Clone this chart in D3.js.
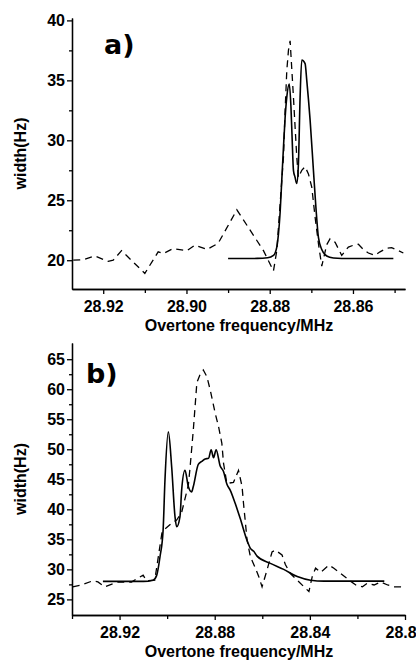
<!DOCTYPE html>
<html lang="en">
<head>
    <meta charset="UTF-8">
    <title>Overtone widths</title>
    <script src="https://d3js.org/d3.v7.min.js"></script>
    <style>
        body { margin: 0; background: #fff; }
        text { font-family: 'Liberation Sans', Arial, sans-serif; font-weight: bold; fill: #000; }
    </style>
</head>
<body>
    <svg id="chart" width="416" height="662"></svg>

    <script>
        // Panel a) - measured (dashed) and fitted (solid) widths
        const aExpFreq  = [28.9272, 28.9248, 28.9220, 28.9188, 28.9176, 28.9156, 28.9100, 28.9068, 28.9056, 28.9032,
                           28.8999, 28.8980, 28.8951, 28.8924, 28.8879, 28.8815, 28.8791, 28.8783, 28.8775, 28.8767,
                           28.8763, 28.8759, 28.8755, 28.8751, 28.8743, 28.8735, 28.8731, 28.8723, 28.8715, 28.8707,
                           28.8699, 28.8691, 28.8683, 28.8675, 28.8663, 28.8655, 28.8643, 28.8627, 28.8611, 28.8599,
                           28.8587, 28.8575, 28.8563, 28.8547, 28.8535, 28.8519, 28.8507, 28.8491, 28.8479];
        const aExpWidth = [20.0, 20.05, 20.35, 19.9, 20.0, 20.8, 18.9, 20.7, 20.55, 20.97,
                           20.8, 21.25, 20.9, 21.4, 24.2, 20.8, 19.1, 20.8, 24.7, 28.6,
                           32.5, 35.8, 37.5, 38.3, 33.6, 28.6, 26.9, 27.5, 27.8, 27.2,
                           26.1, 23.6, 21.4, 19.5, 21.3, 21.8, 21.5, 20.4, 21.1, 21.25,
                           21.33, 20.9, 20.6, 20.4, 20.7, 21.0, 21.05, 20.8, 20.6];
        const aFitFreq  = [28.8900, 28.8830, 28.8805, 28.8791, 28.8783, 28.8779, 28.8775, 28.8771, 28.8767, 28.8763,
                           28.8759, 28.8753, 28.8749, 28.8746, 28.8743, 28.8739, 28.8735, 28.8731, 28.8727, 28.8723,
                           28.8715, 28.8711, 28.8703, 28.8695, 28.8689, 28.8683, 28.8675, 28.8663, 28.8647, 28.8627,
                           28.8503];
        const aFitWidth = [20.14, 20.15, 20.2, 20.4, 21.1, 22.2, 24.0, 26.7, 29.4, 31.9,
                           33.6, 34.7, 32.8, 30.0, 27.5, 26.9, 26.4, 28.1, 33.6, 36.7,
                           36.4, 35.0, 31.7, 27.5, 24.4, 21.9, 20.9, 20.35, 20.18, 20.14,
                           20.14];

        // Panel b)
        const bExpFreq  = [28.9397, 28.9361, 28.9312, 28.9291, 28.9263, 28.9207, 28.9150, 28.9101, 28.9087, 28.9052,
                           28.9021, 28.8981, 28.8960, 28.8939, 28.8911, 28.8904, 28.8890, 28.8875, 28.8862, 28.8848,
                           28.8833, 28.8819, 28.8798, 28.8784, 28.8770, 28.8763, 28.8749, 28.8721, 28.8700, 28.8685,
                           28.8679, 28.8672, 28.8664, 28.8650, 28.8629, 28.8615, 28.8601, 28.8580, 28.8559, 28.8545,
                           28.8517, 28.8503, 28.8482, 28.8453, 28.8425, 28.8404, 28.8390, 28.8376, 28.8355, 28.8320,
                           28.8299, 28.8270, 28.8235, 28.8207, 28.8179, 28.8158, 28.8130, 28.8101, 28.8073, 28.8045,
                           28.8003];
        const bExpWidth = [27.1, 27.4, 28.1, 27.9, 27.1, 27.9, 27.9, 29.05, 28.1, 28.2,
                           36.3, 37.7, 38.2, 39.5, 44.0, 46.8, 53.2, 61.1, 62.4, 63.2,
                           62.1, 59.9, 56.0, 53.8, 51.0, 47.7, 44.3, 44.5, 46.5, 43.8,
                           41.0, 38.2, 34.9, 32.1, 30.2, 28.8, 27.1, 29.9, 32.9, 33.2,
                           32.4, 30.8, 29.3, 28.2, 27.1, 26.3, 28.8, 30.2, 29.5, 30.7,
                           30.2, 29.3, 28.2, 27.4, 27.1, 27.7, 27.4, 27.9, 27.4, 27.1,
                           27.1];
        const bFitFreq  = [28.9270, 28.9100, 28.9059, 28.9044, 28.9030, 28.9017, 28.9009, 28.8995, 28.8981, 28.8967,
                           28.8960, 28.8946, 28.8939, 28.8925, 28.8911, 28.8897, 28.8890, 28.8869, 28.8854, 28.8840,
                           28.8826, 28.8815, 28.8805, 28.8794, 28.8777, 28.8763, 28.8749, 28.8735, 28.8714, 28.8693,
                           28.8664, 28.8650, 28.8636, 28.8622, 28.8566, 28.8510, 28.8453, 28.8397, 28.8341, 28.8087];
        const bFitWidth = [28.0, 28.0, 28.2, 29.0, 32.1, 36.5, 45.0, 52.9, 47.1, 38.8,
                           37.1, 38.8, 43.2, 46.5, 43.8, 42.9, 43.8, 47.5, 48.0, 48.4,
                           48.5, 49.9, 48.6, 49.9, 47.2, 46.3, 44.2, 43.2, 41.0, 38.5,
                           34.8, 33.5, 33.0, 32.2, 31.0, 30.0, 28.8, 28.2, 28.05, 28.05];

        // Tick values
        const aXMajor = [28.92, 28.90, 28.88, 28.86];
        const aXMinor = [28.91, 28.89, 28.87, 28.85];
        const aYMajor = [20, 25, 30, 35, 40];
        const aYMinor = [22.5, 27.5, 32.5, 37.5];
        const bXMajor = [28.92, 28.88, 28.84, 28.80];
        const bXMinor = [28.94, 28.90, 28.86, 28.82];
        const bYMajor = [25, 30, 35, 40, 45, 50, 55, 60, 65];
        const bYMinor = [27.5, 32.5, 37.5, 42.5, 47.5, 52.5, 57.5, 62.5];

        const svg = d3.select("#chart");

        function drawPanel(p) {
            const x = d3.scaleLinear().domain(p.xDomain).range([72, 405]);
            const y = d3.scaleLinear().domain(p.yDomain).range(p.yRange);
            const g = svg.append("g");

            // minor ticks
            g.append("g")
                .attr("transform", `translate(0,${p.yRange[0]})`)
                .call(d3.axisBottom(x).tickValues(p.xMinor).tickSize(4).tickSizeOuter(0).tickFormat(""));
            g.append("g")
                .attr("transform", "translate(72,0)")
                .call(d3.axisLeft(y).tickValues(p.yMinor).tickSize(3).tickSizeOuter(0).tickFormat(""));

            // major ticks with labels
            g.append("g")
                .attr("transform", `translate(0,${p.yRange[0]})`)
                .call(d3.axisBottom(x).tickValues(p.xMajor).tickSize(5).tickSizeOuter(0)
                    .tickPadding(7).tickFormat(d3.format(".2f")));
            g.append("g")
                .attr("transform", "translate(72,0)")
                .call(d3.axisLeft(y).tickValues(p.yMajor).tickSize(5).tickSizeOuter(0).tickPadding(2));

            g.selectAll(".tick text").style("font-size", "16px");
            g.selectAll(".domain, .tick line").attr("stroke", "#000").attr("stroke-width", 1.3);

            const line = d3.line().x(d => x(d[0])).y(d => y(d[1]));

            g.append("path")
                .datum(d3.zip(p.expFreq, p.expWidth))
                .attr("fill", "none")
                .attr("stroke", "#000")
                .attr("stroke-width", 1.3)
                .attr("stroke-dasharray", "7,5")
                .attr("d", line);

            g.append("path")
                .datum(d3.zip(p.fitFreq, p.fitWidth))
                .attr("fill", "none")
                .attr("stroke", "#000")
                .attr("stroke-width", 1.6)
                .attr("d", line.curve(d3.curveMonotoneX));

            // titles
            g.append("text")
                .attr("x", 239).attr("y", p.yRange[0] + 42)
                .attr("text-anchor", "middle")
                .style("font-size", "16px")
                .text("Overtone frequency/MHz");
            g.append("text")
                .attr("transform", `translate(26,${(p.yRange[0] + p.yRange[1]) / 2}) rotate(-90)`)
                .attr("text-anchor", "middle")
                .style("font-size", "16px")
                .text("width(Hz)");
            g.append("text")
                .attr("x", p.labelX).attr("y", p.labelY)
                .style("font-family", "'DejaVu Sans', Verdana, sans-serif")
                .style("font-size", "27px")
                .text(p.label);
        }

        drawPanel({
            xDomain: [28.9275, 28.8475], yDomain: [17.6, 40.2], yRange: [289, 18],
            xMajor: aXMajor, xMinor: aXMinor, yMajor: aYMajor, yMinor: aYMinor,
            expFreq: aExpFreq, expWidth: aExpWidth, fitFreq: aFitFreq, fitWidth: aFitWidth,
            label: "a)", labelX: 104, labelY: 54
        });

        drawPanel({
            xDomain: [28.94, 28.80], yDomain: [22.4, 67.7], yRange: [615, 343],
            xMajor: bXMajor, xMinor: bXMinor, yMajor: bYMajor, yMinor: bYMinor,
            expFreq: bExpFreq, expWidth: bExpWidth, fitFreq: bFitFreq, fitWidth: bFitWidth,
            label: "b)", labelX: 86, labelY: 383
        });
    </script>
</body>
</html>
